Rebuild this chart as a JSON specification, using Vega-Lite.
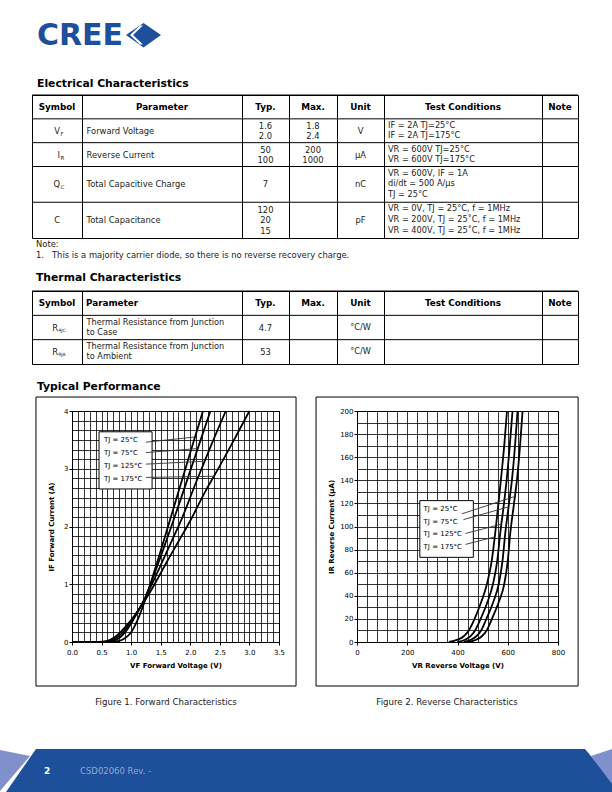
{
"$schema": "https://vega.github.io/schema/vega-lite/v6.json",
"padding": 0,
"background": "#ffffff",
"spacing": 0,
"bounds": "flush",
"config": {
 "view": {"stroke": null},
 "font": "DejaVu Sans",
 "text": {"font": "DejaVu Sans"},
 "title": {"font": "DejaVu Sans", "color": "#000", "anchor": "start", "frame": "group", "subtitleFont": "DejaVu Sans", "subtitleColor": "#000"},
 "axis": {"labelFont": "DejaVu Sans", "titleFont": "DejaVu Sans", "labelColor": "#000", "titleColor": "#000"}
},
"datasets": {
 "elec": [
  {"key": "h", "hdr": true, "sym": "Symbol", "sub": "", "param": "Parameter", "typ": "Typ.", "max": "Max.", "unit": "Unit", "cond": "Test Conditions", "note": "Note"},
  {"key": "vf", "hdr": false, "sym": "V", "sub": "F", "param": "Forward Voltage", "typ": "1.6\n2.0", "max": "1.8\n2.4", "unit": "V", "cond": "IF = 2A  TJ=25°C\nIF = 2A  TJ=175°C", "note": ""},
  {"key": "ir", "hdr": false, "sym": "I", "sub": "R", "param": "Reverse Current", "typ": "50\n100", "max": "200\n1000", "unit": "μA", "cond": "VR = 600V  TJ=25°C\nVR = 600V  TJ=175°C", "note": ""},
  {"key": "qc", "hdr": false, "sym": "Q", "sub": "C", "param": "Total Capacitive Charge", "typ": "7", "max": "", "unit": "nC", "cond": "VR = 600V, IF = 1A\ndi/dt = 500 A/μs\nTJ = 25°C", "note": ""},
  {"key": "c", "hdr": false, "sym": "C", "sub": "", "param": "Total Capacitance", "typ": "120\n20\n15", "max": "", "unit": "pF", "cond": "VR = 0V, TJ = 25°C, f = 1MHz\nVR = 200V, TJ = 25˚C, f = 1MHz\nVR = 400V, TJ = 25˚C, f = 1MHz", "note": ""}
 ],
 "therm": [
  {"key": "h", "hdr": true, "sym": "Symbol", "sub": "", "param": "Parameter", "typ": "Typ.", "max": "Max.", "unit": "Unit", "cond": "Test Conditions", "note": "Note"},
  {"key": "rjc", "hdr": false, "sym": "R", "sub": "θJC", "param": "Thermal Resistance from Junction\nto Case", "typ": "4.7", "max": "", "unit": "°C/W", "cond": "", "note": ""},
  {"key": "rja", "hdr": false, "sym": "R", "sub": "θJA", "param": "Thermal Resistance from Junction\nto Ambient", "typ": "53", "max": "", "unit": "°C/W", "cond": "", "note": ""}
 ],
 "fwd": [
  {"temp": "25", "v": 0, "i": 0}, {"temp": "25", "v": 0.65, "i": 0}, {"temp": "25", "v": 0.8, "i": 0.02}, {"temp": "25", "v": 0.9, "i": 0.07}, {"temp": "25", "v": 1.0, "i": 0.17}, {"temp": "25", "v": 1.1, "i": 0.36}, {"temp": "25", "v": 1.2, "i": 0.62}, {"temp": "25", "v": 1.3, "i": 0.92}, {"temp": "25", "v": 1.4, "i": 1.25}, {"temp": "25", "v": 1.5, "i": 1.58}, {"temp": "25", "v": 1.6, "i": 1.92}, {"temp": "25", "v": 1.8, "i": 2.6}, {"temp": "25", "v": 2.0, "i": 3.28}, {"temp": "25", "v": 2.2, "i": 3.95}, {"temp": "25", "v": 2.215, "i": 4.0},
  {"temp": "75", "v": 0, "i": 0}, {"temp": "75", "v": 0.55, "i": 0}, {"temp": "75", "v": 0.7, "i": 0.02}, {"temp": "75", "v": 0.8, "i": 0.07}, {"temp": "75", "v": 0.9, "i": 0.17}, {"temp": "75", "v": 1.0, "i": 0.32}, {"temp": "75", "v": 1.1, "i": 0.5}, {"temp": "75", "v": 1.2, "i": 0.68}, {"temp": "75", "v": 1.3, "i": 0.93}, {"temp": "75", "v": 1.4, "i": 1.2}, {"temp": "75", "v": 1.5, "i": 1.48}, {"temp": "75", "v": 1.6, "i": 1.77}, {"temp": "75", "v": 1.7, "i": 2.06}, {"temp": "75", "v": 1.9, "i": 2.66}, {"temp": "75", "v": 2.1, "i": 3.27}, {"temp": "75", "v": 2.34, "i": 4.0},
  {"temp": "125", "v": 0, "i": 0}, {"temp": "125", "v": 0.5, "i": 0}, {"temp": "125", "v": 0.65, "i": 0.02}, {"temp": "125", "v": 0.75, "i": 0.07}, {"temp": "125", "v": 0.85, "i": 0.16}, {"temp": "125", "v": 0.95, "i": 0.28}, {"temp": "125", "v": 1.05, "i": 0.43}, {"temp": "125", "v": 1.15, "i": 0.6}, {"temp": "125", "v": 1.25, "i": 0.79}, {"temp": "125", "v": 1.35, "i": 1.0}, {"temp": "125", "v": 1.5, "i": 1.33}, {"temp": "125", "v": 1.7, "i": 1.78}, {"temp": "125", "v": 1.85, "i": 2.12}, {"temp": "125", "v": 2.1, "i": 2.77}, {"temp": "125", "v": 2.35, "i": 3.4}, {"temp": "125", "v": 2.6, "i": 4.0},
  {"temp": "175", "v": 0, "i": 0}, {"temp": "175", "v": 0.45, "i": 0}, {"temp": "175", "v": 0.6, "i": 0.02}, {"temp": "175", "v": 0.7, "i": 0.07}, {"temp": "175", "v": 0.8, "i": 0.15}, {"temp": "175", "v": 0.9, "i": 0.26}, {"temp": "175", "v": 1.0, "i": 0.38}, {"temp": "175", "v": 1.1, "i": 0.52}, {"temp": "175", "v": 1.2, "i": 0.67}, {"temp": "175", "v": 1.3, "i": 0.83}, {"temp": "175", "v": 1.45, "i": 1.1}, {"temp": "175", "v": 1.6, "i": 1.38}, {"temp": "175", "v": 1.8, "i": 1.74}, {"temp": "175", "v": 2.0, "i": 2.1}, {"temp": "175", "v": 2.25, "i": 2.6}, {"temp": "175", "v": 2.5, "i": 3.05}, {"temp": "175", "v": 2.75, "i": 3.52}, {"temp": "175", "v": 3.0, "i": 4.0}
 ],
 "rev": [
  {"temp": "175", "v": 366, "i": 0}, {"temp": "175", "v": 400, "i": 2}, {"temp": "175", "v": 425, "i": 5}, {"temp": "175", "v": 445, "i": 10}, {"temp": "175", "v": 468, "i": 20}, {"temp": "175", "v": 495, "i": 35}, {"temp": "175", "v": 517, "i": 50}, {"temp": "175", "v": 536, "i": 70}, {"temp": "175", "v": 550, "i": 94}, {"temp": "175", "v": 563, "i": 120}, {"temp": "175", "v": 573, "i": 141}, {"temp": "175", "v": 586, "i": 170}, {"temp": "175", "v": 597, "i": 200},
  {"temp": "125", "v": 399, "i": 0}, {"temp": "125", "v": 430, "i": 2}, {"temp": "125", "v": 452, "i": 5}, {"temp": "125", "v": 470, "i": 10}, {"temp": "125", "v": 492, "i": 20}, {"temp": "125", "v": 520, "i": 35}, {"temp": "125", "v": 541, "i": 50}, {"temp": "125", "v": 558, "i": 70}, {"temp": "125", "v": 570, "i": 94}, {"temp": "125", "v": 585, "i": 120}, {"temp": "125", "v": 596, "i": 141}, {"temp": "125", "v": 608, "i": 170}, {"temp": "125", "v": 619, "i": 200},
  {"temp": "75", "v": 425, "i": 0}, {"temp": "75", "v": 453, "i": 2}, {"temp": "75", "v": 475, "i": 5}, {"temp": "75", "v": 494, "i": 10}, {"temp": "75", "v": 515, "i": 20}, {"temp": "75", "v": 543, "i": 35}, {"temp": "75", "v": 564, "i": 50}, {"temp": "75", "v": 579, "i": 70}, {"temp": "75", "v": 590, "i": 94}, {"temp": "75", "v": 605, "i": 120}, {"temp": "75", "v": 617, "i": 141}, {"temp": "75", "v": 629, "i": 170}, {"temp": "75", "v": 639, "i": 200},
  {"temp": "25", "v": 445, "i": 0}, {"temp": "25", "v": 474, "i": 2}, {"temp": "25", "v": 497, "i": 5}, {"temp": "25", "v": 516, "i": 10}, {"temp": "25", "v": 537, "i": 20}, {"temp": "25", "v": 565, "i": 35}, {"temp": "25", "v": 586, "i": 50}, {"temp": "25", "v": 600, "i": 70}, {"temp": "25", "v": 610, "i": 94}, {"temp": "25", "v": 625, "i": 120}, {"temp": "25", "v": 637, "i": 141}, {"temp": "25", "v": 649, "i": 170}, {"temp": "25", "v": 659, "i": 200}
 ],
 "fwdlab": [
  {"temp": "25", "label": "TJ = 25°C", "lx": 0.54, "ly": 3.5, "sx": 1.25, "sy": 3.46, "ex": 2.081, "ey": 3.55},
  {"temp": "75", "label": "TJ = 75°C", "lx": 0.54, "ly": 3.27, "sx": 1.25, "sy": 3.28, "ex": 2.126, "ey": 3.35},
  {"temp": "125", "label": "TJ = 125°C", "lx": 0.54, "ly": 3.05, "sx": 1.25, "sy": 3.08, "ex": 2.243, "ey": 3.13},
  {"temp": "175", "label": "TJ = 175°C", "lx": 0.54, "ly": 2.82, "sx": 1.25, "sy": 2.85, "ex": 2.4, "ey": 2.87}
 ],
 "revlab": [
  {"temp": "25", "label": "TJ = 25°C", "lx": 265, "ly": 115.5, "sx": 418, "sy": 111, "ex": 628, "ey": 126},
  {"temp": "75", "label": "TJ = 75°C", "lx": 265, "ly": 104.3, "sx": 424, "sy": 106, "ex": 603, "ey": 117},
  {"temp": "125", "label": "TJ = 125°C", "lx": 265, "ly": 93.1, "sx": 432, "sy": 94, "ex": 575, "ey": 102},
  {"temp": "175", "label": "TJ = 175°C", "lx": 265, "ly": 81.9, "sx": 432, "sy": 84.5, "ex": 548, "ey": 91}
 ]
},
"vconcat": [
 {
  "width": 612, "height": 95,
  "data": {"values": [{}]},
  "title": {"text": "Electrical Characteristics", "orient": "bottom", "anchor": "start", "frame": "group", "dx": 37, "offset": -17, "fontSize": 10.8, "fontWeight": "bold"},
  "layer": [
   {"mark": {"type": "point", "shape": "M-180,-12.5 L-162.5,-24.5 L-145,-12.5 L-162.5,0 Z", "size": 4, "filled": true, "fill": "#1d4f9c", "opacity": 1, "strokeWidth": 0}, "encoding": {}},
   {"mark": {"type": "point", "shape": "M-166,-22 L-176,-12.5 L-166,-3 L-163,-3 L-173,-12.5 L-163,-22 Z", "size": 4, "filled": true, "fill": "#ffffff", "opacity": 1, "strokeWidth": 0}, "encoding": {}},
   {"mark": {"type": "text", "text": "CREE", "fontSize": 30, "fontWeight": "bold", "color": "#1d4f9c", "align": "left", "baseline": "middle", "dx": -269, "dy": -12}, "encoding": {}}
  ]
 },
 {
  "hconcat": [
   {"width": 32, "height": 143, "data": {"values": []}, "mark": "point", "encoding": {}},
   {"width": 50, "height": 143, "data": {"name": "elec"}, "view": {"stroke": "#000", "strokeWidth": 1}, "layer": [
     {"mark": {"type": "rule", "color": "#000", "strokeWidth": 1}, "encoding": {"y": {"field": "key", "type": "nominal", "bandPosition": 0, "scale": {"type": "band", "domain": ["h","h2","vf","vf2","ir","ir2","qc","qc2","qc3","c","c2","c3"], "paddingInner": 0, "paddingOuter": 0}, "axis": null}}},
     {"transform": [{"filter": "datum.hdr"}], "mark": {"type": "text", "fontSize": 8.8, "fontWeight": "bold", "baseline": "middle", "color": "#000"}, "encoding": {"y": {"field": "key", "type": "nominal", "bandPosition": 1, "scale": {"type": "band", "domain": ["h","h2","vf","vf2","ir","ir2","qc","qc2","qc3","c","c2","c3"], "paddingInner": 0, "paddingOuter": 0}, "axis": null}, "text": {"field": "sym"}}},
     {"transform": [{"filter": "datum.key=='vf'||datum.key=='ir'"}], "mark": {"type": "text", "fontSize": 8.4, "baseline": "middle", "align": "right", "dx": 3, "color": "#222"}, "encoding": {"y": {"field": "key", "type": "nominal", "bandPosition": 1, "scale": {"type": "band", "domain": ["h","h2","vf","vf2","ir","ir2","qc","qc2","qc3","c","c2","c3"], "paddingInner": 0, "paddingOuter": 0}, "axis": null}, "text": {"field": "sym"}}},
     {"transform": [{"filter": "datum.key=='qc'||datum.key=='c'"}], "mark": {"type": "text", "fontSize": 8.4, "baseline": "middle", "align": "right", "dx": 3, "color": "#222"}, "encoding": {"y": {"field": "key", "type": "nominal", "bandPosition": 1.5, "scale": {"type": "band", "domain": ["h","h2","vf","vf2","ir","ir2","qc","qc2","qc3","c","c2","c3"], "paddingInner": 0, "paddingOuter": 0}, "axis": null}, "text": {"field": "sym"}}},
     {"transform": [{"filter": "datum.key=='vf'||datum.key=='ir'"}], "mark": {"type": "text", "fontSize": 5.5, "baseline": "middle", "align": "left", "dx": 3.5, "dy": 3, "color": "#222"}, "encoding": {"y": {"field": "key", "type": "nominal", "bandPosition": 1, "scale": {"type": "band", "domain": ["h","h2","vf","vf2","ir","ir2","qc","qc2","qc3","c","c2","c3"], "paddingInner": 0, "paddingOuter": 0}, "axis": null}, "text": {"field": "sub"}}},
     {"transform": [{"filter": "datum.key=='qc'"}], "mark": {"type": "text", "fontSize": 5.5, "baseline": "middle", "align": "left", "dx": 3.5, "dy": 3, "color": "#222"}, "encoding": {"y": {"field": "key", "type": "nominal", "bandPosition": 1.5, "scale": {"type": "band", "domain": ["h","h2","vf","vf2","ir","ir2","qc","qc2","qc3","c","c2","c3"], "paddingInner": 0, "paddingOuter": 0}, "axis": null}, "text": {"field": "sub"}}}
   ]},
   {"width": 160, "height": 143, "data": {"name": "elec"}, "view": {"stroke": "#000", "strokeWidth": 1}, "layer": [
     {"mark": {"type": "rule", "color": "#000", "strokeWidth": 1}, "encoding": {"y": {"field": "key", "type": "nominal", "bandPosition": 0, "scale": {"type": "band", "domain": ["h","h2","vf","vf2","ir","ir2","qc","qc2","qc3","c","c2","c3"], "paddingInner": 0, "paddingOuter": 0}, "axis": null}}},
     {"transform": [{"filter": "datum.hdr"}], "mark": {"type": "text", "fontSize": 8.8, "fontWeight": "bold", "baseline": "middle", "color": "#000"}, "encoding": {"y": {"field": "key", "type": "nominal", "bandPosition": 1, "scale": {"type": "band", "domain": ["h","h2","vf","vf2","ir","ir2","qc","qc2","qc3","c","c2","c3"], "paddingInner": 0, "paddingOuter": 0}, "axis": null}, "text": {"field": "param"}}},
     {"transform": [{"filter": "datum.key=='vf'||datum.key=='ir'"}], "mark": {"type": "text", "fontSize": 8.4, "baseline": "middle", "align": "left", "dx": 4.5, "color": "#222"}, "encoding": {"x": {"datum": 0, "type": "quantitative", "scale": {"domain": [0, 1]}, "axis": null}, "y": {"field": "key", "type": "nominal", "bandPosition": 1, "scale": {"type": "band", "domain": ["h","h2","vf","vf2","ir","ir2","qc","qc2","qc3","c","c2","c3"], "paddingInner": 0, "paddingOuter": 0}, "axis": null}, "text": {"field": "param"}}},
     {"transform": [{"filter": "datum.key=='qc'||datum.key=='c'"}], "mark": {"type": "text", "fontSize": 8.4, "baseline": "middle", "align": "left", "dx": 4.5, "color": "#222"}, "encoding": {"x": {"datum": 0, "type": "quantitative", "scale": {"domain": [0, 1]}, "axis": null}, "y": {"field": "key", "type": "nominal", "bandPosition": 1.5, "scale": {"type": "band", "domain": ["h","h2","vf","vf2","ir","ir2","qc","qc2","qc3","c","c2","c3"], "paddingInner": 0, "paddingOuter": 0}, "axis": null}, "text": {"field": "param"}}}
   ]},
   {"width": 47, "height": 143, "data": {"name": "elec"}, "view": {"stroke": "#000", "strokeWidth": 1}, "layer": [
     {"mark": {"type": "rule", "color": "#000", "strokeWidth": 1}, "encoding": {"y": {"field": "key", "type": "nominal", "bandPosition": 0, "scale": {"type": "band", "domain": ["h","h2","vf","vf2","ir","ir2","qc","qc2","qc3","c","c2","c3"], "paddingInner": 0, "paddingOuter": 0}, "axis": null}}},
     {"transform": [{"filter": "datum.hdr"}], "mark": {"type": "text", "fontSize": 8.8, "fontWeight": "bold", "baseline": "middle", "color": "#000"}, "encoding": {"y": {"field": "key", "type": "nominal", "bandPosition": 1, "scale": {"type": "band", "domain": ["h","h2","vf","vf2","ir","ir2","qc","qc2","qc3","c","c2","c3"], "paddingInner": 0, "paddingOuter": 0}, "axis": null}, "text": {"field": "typ"}}},
     {"transform": [{"filter": "datum.key=='vf'||datum.key=='ir'"}], "mark": {"type": "text", "fontSize": 8.4, "baseline": "middle", "lineBreak": "\n", "lineHeight": 10, "dy": -5, "color": "#222"}, "encoding": {"y": {"field": "key", "type": "nominal", "bandPosition": 1, "scale": {"type": "band", "domain": ["h","h2","vf","vf2","ir","ir2","qc","qc2","qc3","c","c2","c3"], "paddingInner": 0, "paddingOuter": 0}, "axis": null}, "text": {"field": "typ"}}},
     {"transform": [{"filter": "datum.key=='qc'"}], "mark": {"type": "text", "fontSize": 8.4, "baseline": "middle", "color": "#222"}, "encoding": {"y": {"field": "key", "type": "nominal", "bandPosition": 1.5, "scale": {"type": "band", "domain": ["h","h2","vf","vf2","ir","ir2","qc","qc2","qc3","c","c2","c3"], "paddingInner": 0, "paddingOuter": 0}, "axis": null}, "text": {"field": "typ"}}},
     {"transform": [{"filter": "datum.key=='c'"}], "mark": {"type": "text", "fontSize": 8.4, "baseline": "middle", "lineBreak": "\n", "lineHeight": 10.5, "dy": -10.5, "color": "#222"}, "encoding": {"y": {"field": "key", "type": "nominal", "bandPosition": 1.5, "scale": {"type": "band", "domain": ["h","h2","vf","vf2","ir","ir2","qc","qc2","qc3","c","c2","c3"], "paddingInner": 0, "paddingOuter": 0}, "axis": null}, "text": {"field": "typ"}}}
   ]},
   {"width": 48, "height": 143, "data": {"name": "elec"}, "view": {"stroke": "#000", "strokeWidth": 1}, "layer": [
     {"mark": {"type": "rule", "color": "#000", "strokeWidth": 1}, "encoding": {"y": {"field": "key", "type": "nominal", "bandPosition": 0, "scale": {"type": "band", "domain": ["h","h2","vf","vf2","ir","ir2","qc","qc2","qc3","c","c2","c3"], "paddingInner": 0, "paddingOuter": 0}, "axis": null}}},
     {"transform": [{"filter": "datum.hdr"}], "mark": {"type": "text", "fontSize": 8.8, "fontWeight": "bold", "baseline": "middle", "color": "#000"}, "encoding": {"y": {"field": "key", "type": "nominal", "bandPosition": 1, "scale": {"type": "band", "domain": ["h","h2","vf","vf2","ir","ir2","qc","qc2","qc3","c","c2","c3"], "paddingInner": 0, "paddingOuter": 0}, "axis": null}, "text": {"field": "max"}}},
     {"transform": [{"filter": "datum.key=='vf'||datum.key=='ir'"}], "mark": {"type": "text", "fontSize": 8.4, "baseline": "middle", "lineBreak": "\n", "lineHeight": 10, "dy": -5, "color": "#222"}, "encoding": {"y": {"field": "key", "type": "nominal", "bandPosition": 1, "scale": {"type": "band", "domain": ["h","h2","vf","vf2","ir","ir2","qc","qc2","qc3","c","c2","c3"], "paddingInner": 0, "paddingOuter": 0}, "axis": null}, "text": {"field": "max"}}}
   ]},
   {"width": 47, "height": 143, "data": {"name": "elec"}, "view": {"stroke": "#000", "strokeWidth": 1}, "layer": [
     {"mark": {"type": "rule", "color": "#000", "strokeWidth": 1}, "encoding": {"y": {"field": "key", "type": "nominal", "bandPosition": 0, "scale": {"type": "band", "domain": ["h","h2","vf","vf2","ir","ir2","qc","qc2","qc3","c","c2","c3"], "paddingInner": 0, "paddingOuter": 0}, "axis": null}}},
     {"transform": [{"filter": "datum.hdr"}], "mark": {"type": "text", "fontSize": 8.8, "fontWeight": "bold", "baseline": "middle", "color": "#000"}, "encoding": {"y": {"field": "key", "type": "nominal", "bandPosition": 1, "scale": {"type": "band", "domain": ["h","h2","vf","vf2","ir","ir2","qc","qc2","qc3","c","c2","c3"], "paddingInner": 0, "paddingOuter": 0}, "axis": null}, "text": {"field": "unit"}}},
     {"transform": [{"filter": "datum.key=='vf'||datum.key=='ir'"}], "mark": {"type": "text", "fontSize": 8.4, "baseline": "middle", "color": "#222"}, "encoding": {"y": {"field": "key", "type": "nominal", "bandPosition": 1, "scale": {"type": "band", "domain": ["h","h2","vf","vf2","ir","ir2","qc","qc2","qc3","c","c2","c3"], "paddingInner": 0, "paddingOuter": 0}, "axis": null}, "text": {"field": "unit"}}},
     {"transform": [{"filter": "datum.key=='qc'||datum.key=='c'"}], "mark": {"type": "text", "fontSize": 8.4, "baseline": "middle", "color": "#222"}, "encoding": {"y": {"field": "key", "type": "nominal", "bandPosition": 1.5, "scale": {"type": "band", "domain": ["h","h2","vf","vf2","ir","ir2","qc","qc2","qc3","c","c2","c3"], "paddingInner": 0, "paddingOuter": 0}, "axis": null}, "text": {"field": "unit"}}}
   ]},
   {"width": 158, "height": 143, "data": {"name": "elec"}, "view": {"stroke": "#000", "strokeWidth": 1}, "layer": [
     {"mark": {"type": "rule", "color": "#000", "strokeWidth": 1}, "encoding": {"y": {"field": "key", "type": "nominal", "bandPosition": 0, "scale": {"type": "band", "domain": ["h","h2","vf","vf2","ir","ir2","qc","qc2","qc3","c","c2","c3"], "paddingInner": 0, "paddingOuter": 0}, "axis": null}}},
     {"transform": [{"filter": "datum.hdr"}], "mark": {"type": "text", "fontSize": 8.8, "fontWeight": "bold", "baseline": "middle", "color": "#000"}, "encoding": {"y": {"field": "key", "type": "nominal", "bandPosition": 1, "scale": {"type": "band", "domain": ["h","h2","vf","vf2","ir","ir2","qc","qc2","qc3","c","c2","c3"], "paddingInner": 0, "paddingOuter": 0}, "axis": null}, "text": {"field": "cond"}}},
     {"transform": [{"filter": "datum.key=='vf'||datum.key=='ir'"}], "mark": {"type": "text", "fontSize": 8.2, "baseline": "middle", "align": "left", "dx": 4, "lineBreak": "\n", "lineHeight": 10, "dy": -5, "color": "#222"}, "encoding": {"x": {"datum": 0, "type": "quantitative", "scale": {"domain": [0, 1]}, "axis": null}, "y": {"field": "key", "type": "nominal", "bandPosition": 1, "scale": {"type": "band", "domain": ["h","h2","vf","vf2","ir","ir2","qc","qc2","qc3","c","c2","c3"], "paddingInner": 0, "paddingOuter": 0}, "axis": null}, "text": {"field": "cond"}}},
     {"transform": [{"filter": "datum.key=='qc'||datum.key=='c'"}], "mark": {"type": "text", "fontSize": 8.2, "baseline": "middle", "align": "left", "dx": 4, "lineBreak": "\n", "lineHeight": 10.8, "dy": -10.8, "color": "#222"}, "encoding": {"x": {"datum": 0, "type": "quantitative", "scale": {"domain": [0, 1]}, "axis": null}, "y": {"field": "key", "type": "nominal", "bandPosition": 1.5, "scale": {"type": "band", "domain": ["h","h2","vf","vf2","ir","ir2","qc","qc2","qc3","c","c2","c3"], "paddingInner": 0, "paddingOuter": 0}, "axis": null}, "text": {"field": "cond"}}}
   ]},
   {"width": 36, "height": 143, "data": {"name": "elec"}, "view": {"stroke": "#000", "strokeWidth": 1}, "layer": [
     {"mark": {"type": "rule", "color": "#000", "strokeWidth": 1}, "encoding": {"y": {"field": "key", "type": "nominal", "bandPosition": 0, "scale": {"type": "band", "domain": ["h","h2","vf","vf2","ir","ir2","qc","qc2","qc3","c","c2","c3"], "paddingInner": 0, "paddingOuter": 0}, "axis": null}}},
     {"transform": [{"filter": "datum.hdr"}], "mark": {"type": "text", "fontSize": 8.8, "fontWeight": "bold", "baseline": "middle", "color": "#000"}, "encoding": {"y": {"field": "key", "type": "nominal", "bandPosition": 1, "scale": {"type": "band", "domain": ["h","h2","vf","vf2","ir","ir2","qc","qc2","qc3","c","c2","c3"], "paddingInner": 0, "paddingOuter": 0}, "axis": null}, "text": {"field": "note"}}}
   ]}
  ],
  "spacing": 0,
  "bounds": "flush"
 },
 {
  "width": 612, "height": 196,
  "data": {"values": []}, "mark": "point", "encoding": {},
  "title": {"text": ["Note:", "1.\u00a0\u00a0\u00a0This is a majority carrier diode, so there is no reverse recovery charge."], "orient": "bottom", "anchor": "start", "frame": "group", "dx": 36, "offset": -51, "fontSize": 8.4, "fontWeight": "normal", "lineHeight": 11, "color": "#222", "subtitle": "Thermal Characteristics", "subtitleFontSize": 10.8, "subtitleFontWeight": "bold", "subtitlePadding": 13}
 },
 {
  "hconcat": [
   {"width": 32, "height": 73, "data": {"values": []}, "mark": "point", "encoding": {}},
   {"width": 50, "height": 73, "data": {"name": "therm"}, "view": {"stroke": "#000", "strokeWidth": 1}, "layer": [
     {"mark": {"type": "rule", "color": "#000", "strokeWidth": 1}, "encoding": {"y": {"field": "key", "type": "nominal", "bandPosition": 0, "scale": {"type": "band", "domain": ["h","h2","rjc","rjc2","rja","rja2"], "paddingInner": 0, "paddingOuter": 0}, "axis": null}}},
     {"transform": [{"filter": "datum.hdr"}], "mark": {"type": "text", "fontSize": 8.8, "fontWeight": "bold", "baseline": "middle", "color": "#000"}, "encoding": {"y": {"field": "key", "type": "nominal", "bandPosition": 1, "scale": {"type": "band", "domain": ["h","h2","rjc","rjc2","rja","rja2"], "paddingInner": 0, "paddingOuter": 0}, "axis": null}, "text": {"field": "sym"}}},
     {"transform": [{"filter": "!datum.hdr"}], "mark": {"type": "text", "fontSize": 8.4, "baseline": "middle", "align": "right", "dx": 1, "color": "#222"}, "encoding": {"y": {"field": "key", "type": "nominal", "bandPosition": 1, "scale": {"type": "band", "domain": ["h","h2","rjc","rjc2","rja","rja2"], "paddingInner": 0, "paddingOuter": 0}, "axis": null}, "text": {"field": "sym"}}},
     {"transform": [{"filter": "!datum.hdr"}], "mark": {"type": "text", "fontSize": 4.5, "baseline": "middle", "align": "left", "dx": 1.5, "dy": 3, "color": "#222"}, "encoding": {"y": {"field": "key", "type": "nominal", "bandPosition": 1, "scale": {"type": "band", "domain": ["h","h2","rjc","rjc2","rja","rja2"], "paddingInner": 0, "paddingOuter": 0}, "axis": null}, "text": {"field": "sub"}}}
   ]},
   {"width": 160, "height": 73, "data": {"name": "therm"}, "view": {"stroke": "#000", "strokeWidth": 1}, "layer": [
     {"mark": {"type": "rule", "color": "#000", "strokeWidth": 1}, "encoding": {"y": {"field": "key", "type": "nominal", "bandPosition": 0, "scale": {"type": "band", "domain": ["h","h2","rjc","rjc2","rja","rja2"], "paddingInner": 0, "paddingOuter": 0}, "axis": null}}},
     {"transform": [{"filter": "datum.hdr"}], "mark": {"type": "text", "fontSize": 8.8, "fontWeight": "bold", "baseline": "middle", "align": "left", "dx": 4, "color": "#000"}, "encoding": {"x": {"datum": 0, "type": "quantitative", "scale": {"domain": [0, 1]}, "axis": null}, "y": {"field": "key", "type": "nominal", "bandPosition": 1, "scale": {"type": "band", "domain": ["h","h2","rjc","rjc2","rja","rja2"], "paddingInner": 0, "paddingOuter": 0}, "axis": null}, "text": {"field": "param"}}},
     {"transform": [{"filter": "!datum.hdr"}], "mark": {"type": "text", "fontSize": 8.2, "baseline": "middle", "align": "left", "dx": 4.5, "lineBreak": "\n", "lineHeight": 10, "dy": -5, "color": "#222"}, "encoding": {"x": {"datum": 0, "type": "quantitative", "scale": {"domain": [0, 1]}, "axis": null}, "y": {"field": "key", "type": "nominal", "bandPosition": 1, "scale": {"type": "band", "domain": ["h","h2","rjc","rjc2","rja","rja2"], "paddingInner": 0, "paddingOuter": 0}, "axis": null}, "text": {"field": "param"}}}
   ]},
   {"width": 47, "height": 73, "data": {"name": "therm"}, "view": {"stroke": "#000", "strokeWidth": 1}, "layer": [
     {"mark": {"type": "rule", "color": "#000", "strokeWidth": 1}, "encoding": {"y": {"field": "key", "type": "nominal", "bandPosition": 0, "scale": {"type": "band", "domain": ["h","h2","rjc","rjc2","rja","rja2"], "paddingInner": 0, "paddingOuter": 0}, "axis": null}}},
     {"transform": [{"filter": "datum.hdr"}], "mark": {"type": "text", "fontSize": 8.8, "fontWeight": "bold", "baseline": "middle", "color": "#000"}, "encoding": {"y": {"field": "key", "type": "nominal", "bandPosition": 1, "scale": {"type": "band", "domain": ["h","h2","rjc","rjc2","rja","rja2"], "paddingInner": 0, "paddingOuter": 0}, "axis": null}, "text": {"field": "typ"}}},
     {"transform": [{"filter": "!datum.hdr"}], "mark": {"type": "text", "fontSize": 8.4, "baseline": "middle", "color": "#222"}, "encoding": {"y": {"field": "key", "type": "nominal", "bandPosition": 1, "scale": {"type": "band", "domain": ["h","h2","rjc","rjc2","rja","rja2"], "paddingInner": 0, "paddingOuter": 0}, "axis": null}, "text": {"field": "typ"}}}
   ]},
   {"width": 48, "height": 73, "data": {"name": "therm"}, "view": {"stroke": "#000", "strokeWidth": 1}, "layer": [
     {"mark": {"type": "rule", "color": "#000", "strokeWidth": 1}, "encoding": {"y": {"field": "key", "type": "nominal", "bandPosition": 0, "scale": {"type": "band", "domain": ["h","h2","rjc","rjc2","rja","rja2"], "paddingInner": 0, "paddingOuter": 0}, "axis": null}}},
     {"transform": [{"filter": "datum.hdr"}], "mark": {"type": "text", "fontSize": 8.8, "fontWeight": "bold", "baseline": "middle", "color": "#000"}, "encoding": {"y": {"field": "key", "type": "nominal", "bandPosition": 1, "scale": {"type": "band", "domain": ["h","h2","rjc","rjc2","rja","rja2"], "paddingInner": 0, "paddingOuter": 0}, "axis": null}, "text": {"field": "max"}}}
   ]},
   {"width": 47, "height": 73, "data": {"name": "therm"}, "view": {"stroke": "#000", "strokeWidth": 1}, "layer": [
     {"mark": {"type": "rule", "color": "#000", "strokeWidth": 1}, "encoding": {"y": {"field": "key", "type": "nominal", "bandPosition": 0, "scale": {"type": "band", "domain": ["h","h2","rjc","rjc2","rja","rja2"], "paddingInner": 0, "paddingOuter": 0}, "axis": null}}},
     {"transform": [{"filter": "datum.hdr"}], "mark": {"type": "text", "fontSize": 8.8, "fontWeight": "bold", "baseline": "middle", "color": "#000"}, "encoding": {"y": {"field": "key", "type": "nominal", "bandPosition": 1, "scale": {"type": "band", "domain": ["h","h2","rjc","rjc2","rja","rja2"], "paddingInner": 0, "paddingOuter": 0}, "axis": null}, "text": {"field": "unit"}}},
     {"transform": [{"filter": "!datum.hdr"}], "mark": {"type": "text", "fontSize": 8.2, "baseline": "middle", "color": "#222"}, "encoding": {"y": {"field": "key", "type": "nominal", "bandPosition": 1, "scale": {"type": "band", "domain": ["h","h2","rjc","rjc2","rja","rja2"], "paddingInner": 0, "paddingOuter": 0}, "axis": null}, "text": {"field": "unit"}}}
   ]},
   {"width": 158, "height": 73, "data": {"name": "therm"}, "view": {"stroke": "#000", "strokeWidth": 1}, "layer": [
     {"mark": {"type": "rule", "color": "#000", "strokeWidth": 1}, "encoding": {"y": {"field": "key", "type": "nominal", "bandPosition": 0, "scale": {"type": "band", "domain": ["h","h2","rjc","rjc2","rja","rja2"], "paddingInner": 0, "paddingOuter": 0}, "axis": null}}},
     {"transform": [{"filter": "datum.hdr"}], "mark": {"type": "text", "fontSize": 8.8, "fontWeight": "bold", "baseline": "middle", "color": "#000"}, "encoding": {"y": {"field": "key", "type": "nominal", "bandPosition": 1, "scale": {"type": "band", "domain": ["h","h2","rjc","rjc2","rja","rja2"], "paddingInner": 0, "paddingOuter": 0}, "axis": null}, "text": {"field": "cond"}}}
   ]},
   {"width": 36, "height": 73, "data": {"name": "therm"}, "view": {"stroke": "#000", "strokeWidth": 1}, "layer": [
     {"mark": {"type": "rule", "color": "#000", "strokeWidth": 1}, "encoding": {"y": {"field": "key", "type": "nominal", "bandPosition": 0, "scale": {"type": "band", "domain": ["h","h2","rjc","rjc2","rja","rja2"], "paddingInner": 0, "paddingOuter": 0}, "axis": null}}},
     {"transform": [{"filter": "datum.hdr"}], "mark": {"type": "text", "fontSize": 8.8, "fontWeight": "bold", "baseline": "middle", "color": "#000"}, "encoding": {"y": {"field": "key", "type": "nominal", "bandPosition": 1, "scale": {"type": "band", "domain": ["h","h2","rjc","rjc2","rja","rja2"], "paddingInner": 0, "paddingOuter": 0}, "axis": null}, "text": {"field": "note"}}}
   ]}
  ],
  "spacing": 0,
  "bounds": "flush"
 },
 {
  "width": 612, "height": 120,
  "data": {"values": []}, "mark": "point", "encoding": {},
  "title": {"text": "Typical Performance", "orient": "bottom", "anchor": "start", "frame": "group", "dx": 37, "offset": -30, "fontSize": 10.8, "fontWeight": "bold"}
 },
 {
  "hconcat": [
   {"width": 72, "height": 231, "data": {"values": []}, "mark": "point", "encoding": {}},
   {
    "width": 207, "height": 231,
    "view": {"stroke": "#000", "strokeWidth": 1},
    "title": {"text": "Figure 1. Forward Characteristics", "orient": "bottom", "anchor": "middle", "frame": "bounds", "offset": 11, "fontSize": 8.6, "fontWeight": "normal", "color": "#222"},
    "layer": [
     {"data": {"name": "fwd"}, "mark": {"type": "line", "color": "#000", "strokeWidth": 1.8, "interpolate": "monotone"},
      "encoding": {
       "x": {"field": "v", "type": "quantitative", "scale": {"domain": [0, 3.5], "nice": false, "zero": false},
        "axis": {"values": [0,0.1,0.2,0.3,0.4,0.5,0.6,0.7,0.8,0.9,1,1.1,1.2,1.3,1.4,1.5,1.6,1.7,1.8,1.9,2,2.1,2.2,2.3,2.4,2.5,2.6,2.7,2.8,2.9,3,3.1,3.2,3.3,3.4,3.5], "tickCount": 200,
         "grid": true, "gridColor": "#000", "gridWidth": 0.8, "gridOpacity": 1, "domain": false,
         "ticks": true, "tickSize": 3, "tickColor": "#000", "tickOpacity": {"condition": {"test": "abs(datum.value*2-round(datum.value*2))<0.001", "value": 1}, "value": 0},
         "labelExpr": "abs(datum.value*2-round(datum.value*2))<0.001 ? format(datum.value, '.1f') : ''",
         "labelFontSize": 7, "labelPadding": 3, "labelOverlap": false, "labelBound": false, "labelFlush": false,
         "title": "VF Forward Voltage (V)", "titleFontSize": 7, "titleFontWeight": "bold", "titlePadding": 6}},
       "y": {"field": "i", "type": "quantitative", "scale": {"domain": [0, 4], "nice": false, "zero": false},
        "axis": {"values": [0,0.1667,0.3333,0.5,0.6667,0.8333,1,1.1667,1.3333,1.5,1.6667,1.8333,2,2.1667,2.3333,2.5,2.6667,2.8333,3,3.1667,3.3333,3.5,3.6667,3.8333,4], "tickCount": 200,
         "grid": true, "gridColor": "#000", "gridWidth": 0.8, "gridOpacity": 1, "domain": false,
         "ticks": true, "tickSize": 3, "tickColor": "#000", "tickOpacity": {"condition": {"test": "abs(datum.value-round(datum.value))<0.001", "value": 1}, "value": 0},
         "labelExpr": "abs(datum.value-round(datum.value))<0.001 ? format(datum.value, 'd') : ''",
         "labelFontSize": 7, "labelPadding": 1, "labelOverlap": false, "labelBound": false, "labelFlush": false,
         "title": "IF Forward Current (A)", "titleFontSize": 7, "titleFontWeight": "bold", "titlePadding": 9}},
       "detail": {"field": "temp"}}},
     {"data": {"values": [{}]}, "mark": {"type": "rect", "filled": false, "stroke": "#000", "strokeWidth": 1},
      "encoding": {"x": {"datum": -0.609, "type": "quantitative"}, "x2": {"datum": 3.788}, "y": {"datum": -0.762, "type": "quantitative"}, "y2": {"datum": 4.242}}},
     {"data": {"values": [{}]}, "mark": {"type": "rect", "fill": "#ffffff", "stroke": "#000", "strokeWidth": 1},
      "encoding": {"x": {"datum": 0.457, "type": "quantitative"}, "x2": {"datum": 1.354}, "y": {"datum": 2.65, "type": "quantitative"}, "y2": {"datum": 3.64}}},
     {"data": {"name": "fwdlab"}, "mark": {"type": "rule", "color": "#333", "strokeWidth": 0.9},
      "encoding": {"x": {"field": "sx", "type": "quantitative"}, "x2": {"field": "ex"}, "y": {"field": "sy", "type": "quantitative"}, "y2": {"field": "ey"}}},
     {"data": {"name": "fwdlab"}, "mark": {"type": "text", "align": "left", "baseline": "middle", "fontSize": 7, "color": "#000"},
      "encoding": {"x": {"field": "lx", "type": "quantitative"}, "y": {"field": "ly", "type": "quantitative"}, "text": {"field": "label"}}}
    ]
   },
   {"width": 78, "height": 231, "data": {"values": []}, "mark": "point", "encoding": {}},
   {
    "width": 201, "height": 231,
    "view": {"stroke": "#000", "strokeWidth": 1},
    "title": {"text": "Figure 2. Reverse Characteristics", "orient": "bottom", "anchor": "middle", "frame": "bounds", "offset": 11, "fontSize": 8.6, "fontWeight": "normal", "color": "#222"},
    "layer": [
     {"data": {"name": "rev"}, "mark": {"type": "line", "color": "#000", "strokeWidth": 1.8, "interpolate": "monotone"},
      "encoding": {
       "x": {"field": "v", "type": "quantitative", "scale": {"domain": [0, 800], "nice": false, "zero": false},
        "axis": {"values": [0,40,80,120,160,200,240,280,320,360,400,440,480,520,560,600,640,680,720,760,800], "tickCount": 200,
         "grid": true, "gridColor": "#000", "gridWidth": 0.8, "gridOpacity": 1, "domain": false,
         "ticks": true, "tickSize": 3, "tickColor": "#000", "tickOpacity": {"condition": {"test": "datum.value % 200 == 0", "value": 1}, "value": 0},
         "labelExpr": "datum.value % 200 == 0 ? format(datum.value, 'd') : ''",
         "labelFontSize": 7, "labelPadding": 3, "labelOverlap": false, "labelBound": false, "labelFlush": false,
         "title": "VR Reverse Voltage (V)", "titleFontSize": 7, "titleFontWeight": "bold", "titlePadding": 6}},
       "y": {"field": "i", "type": "quantitative", "scale": {"domain": [0, 200], "nice": false, "zero": false},
        "axis": {"values": [0,10,20,30,40,50,60,70,80,90,100,110,120,130,140,150,160,170,180,190,200], "tickCount": 200,
         "grid": true, "gridColor": "#000", "gridWidth": 0.8, "gridOpacity": 1, "domain": false,
         "ticks": true, "tickSize": 3, "tickColor": "#000", "tickOpacity": {"condition": {"test": "datum.value % 20 == 0", "value": 1}, "value": 0},
         "labelExpr": "datum.value % 20 == 0 ? format(datum.value, 'd') : ''",
         "labelFontSize": 7, "labelPadding": 1, "labelOverlap": false, "labelBound": false, "labelFlush": false,
         "title": "IR Reverse Current (μA)", "titleFontSize": 7, "titleFontWeight": "bold", "titlePadding": 5}},
       "detail": {"field": "temp"}}},
     {"data": {"values": [{}]}, "mark": {"type": "rect", "filled": false, "stroke": "#000", "strokeWidth": 1},
      "encoding": {"x": {"datum": -163, "type": "quantitative"}, "x2": {"datum": 880}, "y": {"datum": -38.1, "type": "quantitative"}, "y2": {"datum": 212.1}}},
     {"data": {"values": [{}]}, "mark": {"type": "rect", "fill": "#ffffff", "stroke": "#000", "strokeWidth": 1},
      "encoding": {"x": {"datum": 250, "type": "quantitative"}, "x2": {"datum": 463}, "y": {"datum": 73.3, "type": "quantitative"}, "y2": {"datum": 122.4}}},
     {"data": {"name": "revlab"}, "mark": {"type": "rule", "color": "#333", "strokeWidth": 0.9},
      "encoding": {"x": {"field": "sx", "type": "quantitative"}, "x2": {"field": "ex"}, "y": {"field": "sy", "type": "quantitative"}, "y2": {"field": "ey"}}},
     {"data": {"name": "revlab"}, "mark": {"type": "text", "align": "left", "baseline": "middle", "fontSize": 7, "color": "#000"},
      "encoding": {"x": {"field": "lx", "type": "quantitative"}, "y": {"field": "ly", "type": "quantitative"}, "text": {"field": "label"}}}
    ]
   },
   {"width": 54, "height": 231, "data": {"values": []}, "mark": "point", "encoding": {}}
  ],
  "spacing": 0,
  "bounds": "flush"
 },
 {"width": 612, "height": 337, "data": {"values": []}, "mark": "point", "encoding": {}},
 {
  "width": 612, "height": 44,
  "data": {"values": [{}]},
  "layer": [
   {"mark": {"type": "point", "shape": "M-270,-21 L279,-21 L306,11 L306,22 L-300,22 Z", "size": 4, "filled": true, "fill": "#1e4f9b", "opacity": 1, "strokeWidth": 0}, "encoding": {}},
   {"mark": {"type": "point", "shape": "M-306,-20 L-276,-14 L-306,21 Z", "size": 4, "filled": true, "fill": "#8090cc", "opacity": 1, "strokeWidth": 0}, "encoding": {}},
   {"mark": {"type": "point", "shape": "M306,-21 L285,-14 L306,14 Z", "size": 4, "filled": true, "fill": "#8090cc", "opacity": 1, "strokeWidth": 0}, "encoding": {}},
   {"mark": {"type": "text", "text": "2", "align": "left", "baseline": "middle", "dx": -262, "dy": 1, "fontSize": 9, "fontWeight": "bold", "color": "#ffffff"}, "encoding": {}},
   {"mark": {"type": "text", "text": "CSD02060 Rev. -", "align": "left", "baseline": "middle", "dx": -226, "dy": 1, "fontSize": 8.5, "color": "#93a7d3"}, "encoding": {}}
  ]
 }
]
}
